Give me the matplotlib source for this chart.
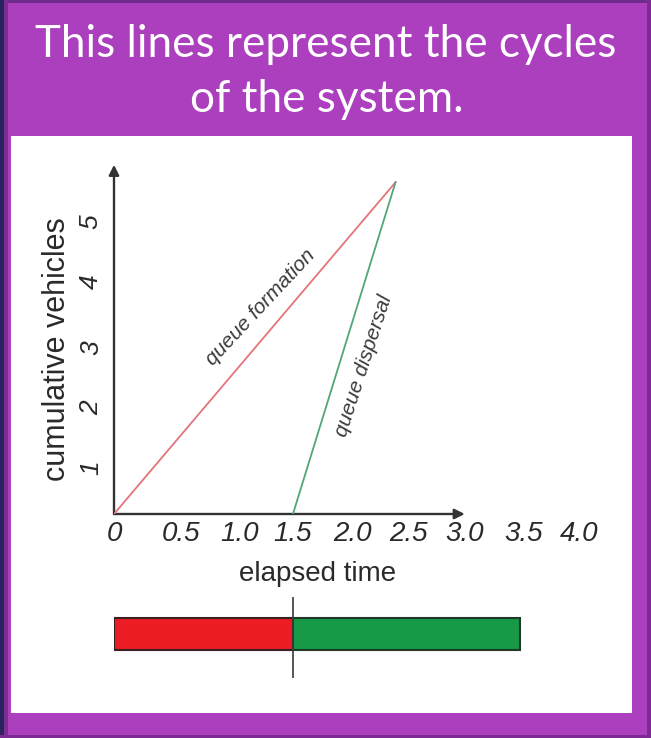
import matplotlib
matplotlib.use("Agg")
import matplotlib.pyplot as plt
from matplotlib.patches import Rectangle

# ---------------- data ----------------
title_lines = ["This lines represent the cycles", "of the system."]
x_tick_labels = ["0", "0.5", "1.0", "1.5", "2.0", "2.5", "3.0", "3.5", "4.0"]
x_tick_pos = [0, 0.56, 1.05, 1.5, 2.0, 2.47, 2.94, 3.43, 3.9]
y_tick_labels = ["1", "2", "3", "4", "5"]
y_tick_pos = [0.78, 1.78, 2.78, 3.87, 4.87]
formation_x = [0.0, 2.36]
formation_y = [0.0, 5.53]
dispersal_x = [1.5, 2.36]
dispersal_y = [0.0, 5.53]
red_phase = 1.5      # duration of queue formation (red)
green_phase = 1.9    # duration of queue dispersal (green)
x_label = "elapsed time"
y_label = "cumulative vehicles"

W, H = 651, 738
fig = plt.figure(figsize=(W / 100, H / 100), dpi=100)
fig.patch.set_facecolor("#ab3fbe")


def frac_rect(x0, y0, x1, y1):
    return (x0 / W, 1 - y1 / H, (x1 - x0) / W, (y1 - y0) / H)


def add_rect(x0, y0, x1, y1, color):
    l, b, w, h = frac_rect(x0, y0, x1, y1)
    fig.patches.append(Rectangle((l, b), w, h, transform=fig.transFigure,
                                 facecolor=color, edgecolor="none", zorder=-10))


# frame decoration
add_rect(0, 0, W, 3, "#6f2b8b")
add_rect(0, 0, 4, H, "#2b2262")
add_rect(4, 0, 8, H, "#7c2d90")
add_rect(647, 0, W, H, "#7e2a94")
add_rect(0, 735, W, H, "#7e2a94")
add_rect(11, 136, 632, 713, "#ffffff")

# ---------------- title ----------------
title_font = "Lato"
t1 = fig.text(326 / W, 1 - 57 / H, title_lines[0], color="white",
              fontsize=30, family=title_font, ha="center", va="baseline")
fig.canvas.draw()
r = fig.canvas.get_renderer()
w1 = t1.get_window_extent(r).width
fs = 30 * 580 / w1
t1.set_fontsize(fs)
fig.text(327 / W, 1 - 112 / H, title_lines[1], color="white",
         fontsize=fs, family=title_font, ha="center", va="baseline")

# ---------------- main chart ----------------
ox, oy = 114, 514          # origin in pixels
ux, uy = 119.3, 60.0       # pixels per data unit
xmax, ymax = 4.1, 5.9
ax = fig.add_axes(frac_rect(ox, oy - uy * ymax, ox + ux * xmax, oy))
ax.set_xlim(0, xmax)
ax.set_ylim(0, ymax)
ax.patch.set_alpha(0)
for s in ax.spines.values():
    s.set_visible(False)

axis_col = "#333333"
ax.annotate("", xy=(2.94, 0), xytext=(0, 0),
            arrowprops=dict(arrowstyle="-|>", color=axis_col, lw=1.7,
                            mutation_scale=15, shrinkA=0, shrinkB=0),
            annotation_clip=False)
ax.annotate("", xy=(0, 5.82), xytext=(0, 0),
            arrowprops=dict(arrowstyle="-|>", color=axis_col, lw=1.7,
                            mutation_scale=15, shrinkA=0, shrinkB=0),
            annotation_clip=False)

ax.plot(formation_x, formation_y, color="#e5737b", lw=1.3, zorder=3)
ax.plot(dispersal_x, dispersal_y, color="#4fa775", lw=1.3, zorder=3)

tick_font = dict(family="Liberation Sans", style="italic", color="#2a2a2a")
ax.set_xticks(x_tick_pos)
ax.set_xticklabels(x_tick_labels, fontsize=20, **tick_font)
ax.set_yticks(y_tick_pos)
ax.set_yticklabels(y_tick_labels, fontsize=19, rotation=90, va="center", **tick_font)
ax.tick_params(axis="x", length=0, pad=5)
ax.tick_params(axis="y", length=0, pad=8)
ax.get_xticklabels()[0].set_x(-0.02)

ann_font = dict(family="Liberation Sans", style="italic", color="#3a3a3a",
                fontsize=15, ha="center", va="center", rotation_mode="anchor")
ax.text(1.23, 3.45, "queue formation", rotation=47, **ann_font)
ax.text(2.09, 2.47, "queue dispersal", rotation=72, **ann_font)

fig.text(318 / W, 1 - 574 / H, x_label, fontsize=20, family="Liberation Sans",
         color="#2a2a2a", ha="center", va="center")
fig.text(57 / W, 1 - 349 / H, y_label, fontsize=22, family="Liberation Sans",
         color="#2a2a2a", ha="center", va="center", rotation=90)

# ---------------- signal bar ----------------
bax = fig.add_axes(frac_rect(ox, 597, ox + ux * xmax, 678))
bax.set_xlim(0, xmax)
bax.set_ylim(0, 1)
bax.axis("off")
bax.barh([0.543], [red_phase], left=0, height=0.395, color="#ec1c24",
         edgecolor="#3a2020", lw=1.5)
bax.barh([0.543], [green_phase], left=red_phase, height=0.395, color="#179a48",
         edgecolor="#203a28", lw=1.5)
bax.axvline(red_phase, ymin=0, ymax=1, color="#3a3a3a", lw=1.2)

fig.savefig("out.png", dpi=100, facecolor=fig.get_facecolor())
